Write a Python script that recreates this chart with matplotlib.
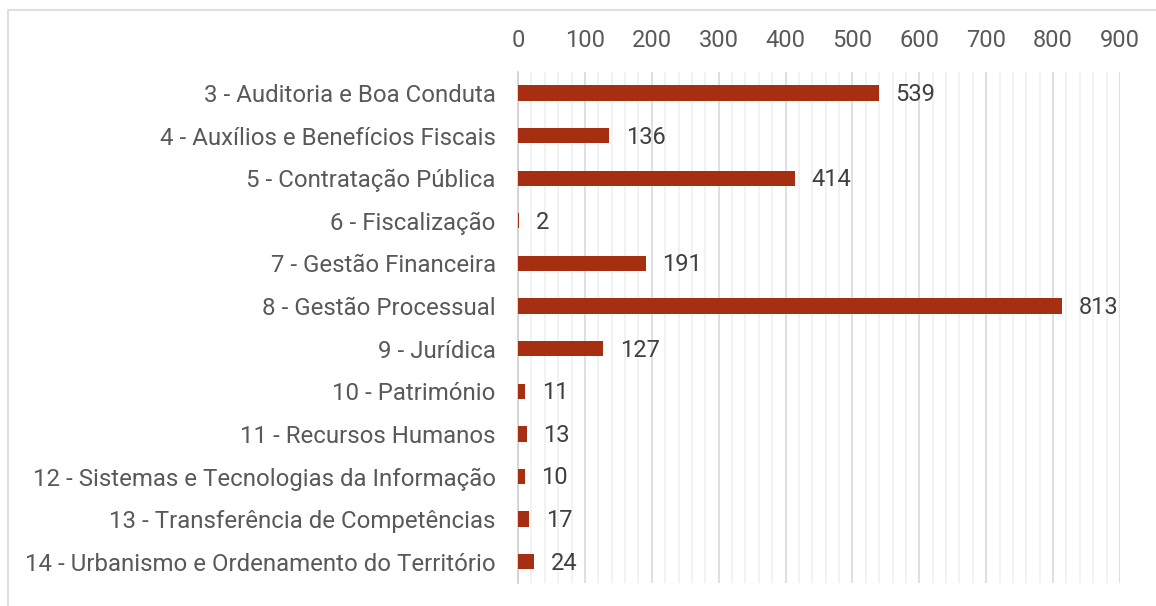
import matplotlib
matplotlib.use("Agg")
import matplotlib.pyplot as plt
from matplotlib.patches import Rectangle
from matplotlib.ticker import MultipleLocator

plt.rcParams['font.family'] = ['Roboto', 'DejaVu Sans']

categories = [
    "3 - Auditoria e Boa Conduta",
    "4 - Auxílios e Benefícios Fiscais",
    "5 - Contratação Pública",
    "6 - Fiscalização",
    "7 - Gestão Financeira",
    "8 - Gestão Processual",
    "9 - Jurídica",
    "10 - Património",
    "11 - Recursos Humanos",
    "12 - Sistemas e Tecnologias da Informação",
    "13 - Transferência de Competências",
    "14 - Urbanismo e Ordenamento do Território",
]
values = [539, 136, 414, 2, 191, 813, 127, 11, 13, 10, 17, 24]
xticks = [0, 100, 200, 300, 400, 500, 600, 700, 800, 900]

W, H = 1156, 606
fig = plt.figure(figsize=(W / 100, H / 100), dpi=100)
fig.patch.set_facecolor("white")

# outer frame
fig.add_artist(Rectangle((8 / W, -0.1), 1.2, 1 - 10 / H + 0.1,
                         transform=fig.transFigure, fill=False,
                         edgecolor="#d9d9d9", linewidth=1.2))

ax = fig.add_axes([518 / W, 1 - 583 / H, (1120 - 518) / W, (583 - 71.7) / H])
y = list(range(len(categories)))
ax.barh(y, values, height=0.36, color="#a52f10", zorder=3)
ax.set_ylim(len(categories) - 0.5, -0.5)
ax.set_xlim(0, 900)
ax.set_yticks(y)
ax.set_yticklabels(categories, fontsize=17.3, color="#595959")
ax.set_xticks(xticks)
ax.set_xticklabels([str(t) for t in xticks], fontsize=17, color="#595959")
ax.xaxis.tick_top()
ax.xaxis.set_minor_locator(MultipleLocator(20))
ax.tick_params(axis="both", which="both", length=0)
ax.tick_params(axis="x", pad=14)
ax.tick_params(axis="y", pad=16)
ax.grid(axis="x", which="major", color="#d9d9d9", linewidth=1.2, zorder=0)
ax.grid(axis="x", which="minor", color="#f0f0f0", linewidth=1.2, zorder=0)
for s in ["top", "right", "bottom"]:
    ax.spines[s].set_visible(False)
ax.spines["left"].set_color("#d0d0d0")
ax.spines["left"].set_linewidth(1.2)

for yi, v in zip(y, values):
    ax.annotate(str(v), (v, yi), xytext=(12, -1), textcoords="offset points",
                va="center", ha="left", fontsize=17, color="#404040", zorder=4)

fig.savefig("out.png", dpi=100, facecolor="white")
